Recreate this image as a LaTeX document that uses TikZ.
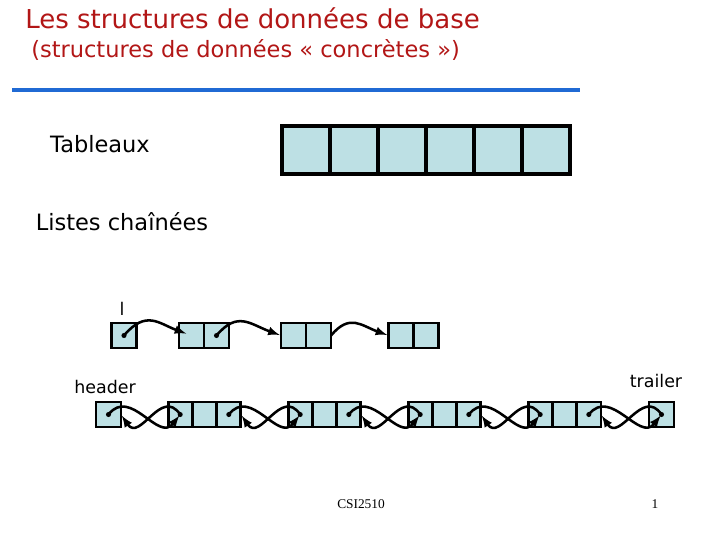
\documentclass[tikz,border=0pt]{standalone}
\usepackage{fontspec}
\setmainfont{DejaVu Sans}
\newfontfamily\footfont{Liberation Serif}
\usepackage{tikz}
\usetikzlibrary{arrows,positioning}

\definecolor{titlered}{RGB}{178,22,22}
\definecolor{ruleblue}{RGB}{32,106,212}
\definecolor{cellblue}{RGB}{189,224,228}

\tikzset{
  arrcell/.style={draw,fill=cellblue,line width=2.6pt,minimum width=1.2cm,minimum height=1.2cm,inner sep=0pt,outer sep=0pt},
  lcell/.style={draw,fill=cellblue,line width=2.1pt,minimum width=0.625cm,minimum height=0.625cm,inner sep=0pt,outer sep=0pt},
  dcell/.style={lcell,minimum width=0.6075cm},
  ptr/.style={->,>=latex,line width=1.8pt,shorten >=1pt},
  label/.style={font=\fontsize{16}{18}\selectfont},
  small/.style={font=\fontsize{12.4}{14}\selectfont}
}

\begin{document}
\begin{tikzpicture}[x=0.025cm,y=-0.025cm]
  \useasboundingbox (0,0) rectangle (720,540);

  % titre
  \node[anchor=base west,inner sep=0pt,text=titlered,font=\fontsize{18.5}{20}\selectfont] (title) at (25,28) {Les structures de données de base};
  \node[anchor=base west,inner sep=0pt,text=titlered,font=\fontsize{16}{18}\selectfont] (subtitle) at (31,57) {(structures de données « concrètes »)};
  \draw[ruleblue,line width=2.5pt] (12,90) -- (580,90);

  \node[label] (tab) at (100,144) {Tableaux};
  \node[label] (lst) at (122,222) {Listes chaînées};

  % tableau
  \foreach \i in {1,...,6}
    \node[arrcell] (t\i) at ({306+48*(\i-1)},150) {};

  % liste simple
  \node[small] (lname) at (122,309) {l};
  \node[lcell] (l0) at (124,335.5) {};
  \node[lcell] (l1a) at (191.5,335.5) {};
  \node[lcell,right=0pt of l1a] (l1b) {};
  \node[lcell] (l2a) at (293.5,335.5) {};
  \node[lcell,right=0pt of l2a] (l2b) {};
  \node[lcell] (l3a) at (401,335.5) {};
  \node[lcell,right=0pt of l3a] (l3b) {};

  \foreach \n in {l0,l1b}
    \fill (\n.center) circle (1.8pt);
  \path[ptr]
  (l0.center) edge[out=50,in=160,looseness=1.3,shorten >=4pt] (l1a.center)
  (l1b.center) edge[out=50,in=160,looseness=1.3] (l2a.west)
  (l2b.east) edge[out=50,in=160,looseness=1.3] (l3a.west)
;

  % liste double
  \node[small] (hname) at (105,387) {header};
  \node[small] (tname) at (656,381) {trailer};
  \node[lcell] (dh) at (108.5,414.5) {};
  \foreach \k/\x in {1/180.2,2/300.2,3/420.2,4/540.2}{
    \node[dcell] (d\k a) at (\x,414.5) {};
    \node[dcell,right=0pt of d\k a] (d\k b) {};
    \node[dcell,right=0pt of d\k b] (d\k c) {};
  }
  \node[lcell] (dt) at (661.5,414.5) {};

  \foreach \n in {dh,d1a,d1c,d2a,d2c,d3a,d3c,d4a,d4c,dt}
    \fill (\n.center) circle (1.8pt);
  \foreach \p/\q in {dh/d1a,d1c/d2a,d2c/d3a,d3c/d4a,d4c/dt}{
    \draw[ptr] (\p.center) .. controls +(22,-28) and +(-22,28) .. (\q.center);
    \draw[ptr] (\q.center) .. controls +(-19,-28) and +(19,28) .. (\p.east);
  }

  % pied de page
  \node[font=\footfont\fontsize{9.5}{11}\selectfont] (foot) at (361,504) {CSI2510};
  \node[font=\footfont\fontsize{9.5}{11}\selectfont] (pnum) at (655,504) {1};
\end{tikzpicture}
\end{document}
